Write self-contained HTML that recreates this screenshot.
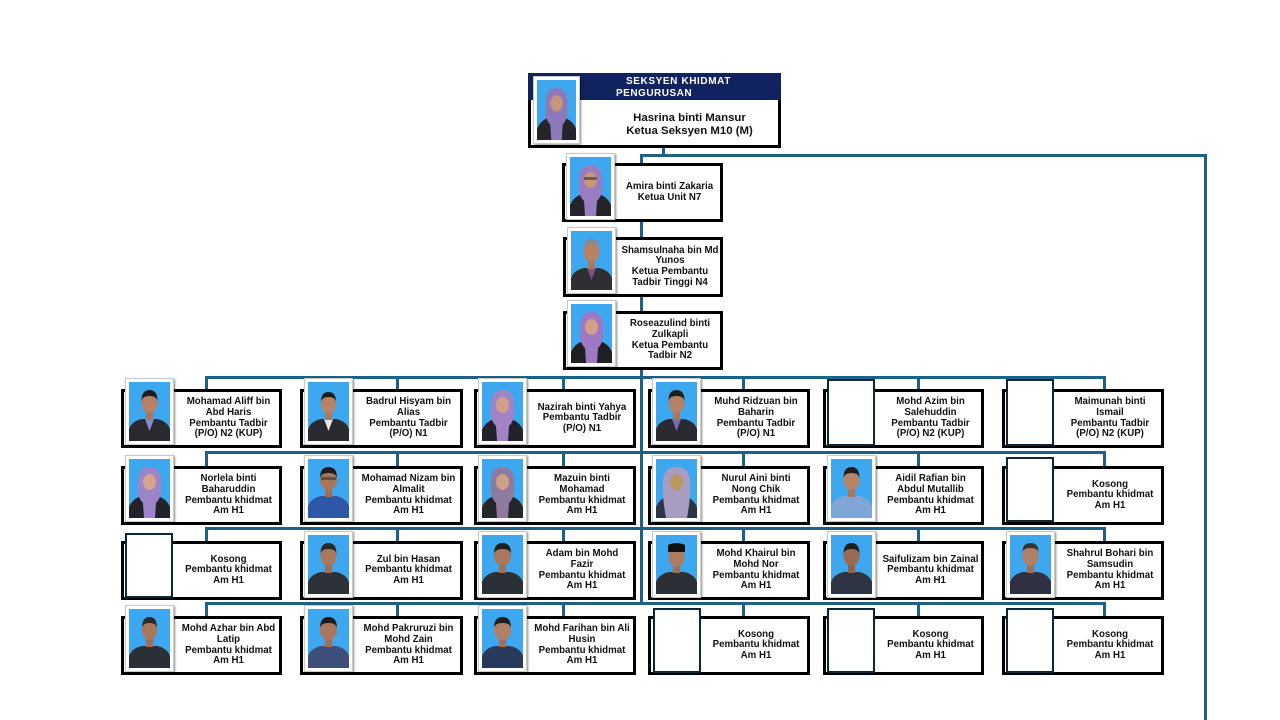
<!DOCTYPE html>
<html><head><meta charset="utf-8">
<style>
html,body{margin:0;padding:0;background:#fff;}
body{width:1280px;height:720px;position:relative;overflow:hidden;font-family:"Liberation Sans",Arial,sans-serif;}
.l{position:absolute;background:#1d6088;}
.b{position:absolute;border:3px solid #000;background:#fff;box-sizing:border-box;height:59px;}
.t{position:absolute;left:54px;right:0;top:0;bottom:0;display:flex;align-items:center;justify-content:center;text-align:center;font-weight:bold;font-size:9.7px;line-height:10.6px;color:#111;white-space:nowrap;}
.p{position:absolute;left:1px;top:-14px;width:47px;height:65px;background:#fff;border:1px solid #c9c9c9;box-shadow:1px 1px 2px rgba(0,0,0,.45);}
.p svg{position:absolute;left:3px;top:3px;}
.e{position:absolute;left:1px;top:-12px;width:44px;height:61px;background:#fff;border:2px solid #0c2737;}
</style></head><body>

<!-- connectors -->
<div class="l" style="left:662px;top:147px;width:3px;height:10px"></div>
<div class="l" style="left:640px;top:154px;width:567px;height:3px"></div>
<div class="l" style="left:1204px;top:154px;width:3px;height:566px"></div>
<div class="l" style="left:640px;top:154px;width:3px;height:451px"></div>

<div class="l" style="left:205px;top:376px;width:901px;height:3px"></div>
<div class="l" style="left:205px;top:451px;width:901px;height:3px"></div>
<div class="l" style="left:205px;top:527px;width:901px;height:3px"></div>
<div class="l" style="left:205px;top:602px;width:901px;height:3px"></div>

<!-- stubs row1 -->
<div class="l" style="left:205px;top:376px;width:3px;height:14px"></div>
<div class="l" style="left:396px;top:376px;width:3px;height:14px"></div>
<div class="l" style="left:562px;top:376px;width:3px;height:14px"></div>
<div class="l" style="left:742px;top:376px;width:3px;height:14px"></div>
<div class="l" style="left:917px;top:376px;width:3px;height:14px"></div>
<div class="l" style="left:1103px;top:376px;width:3px;height:14px"></div>
<!-- row2 -->
<div class="l" style="left:205px;top:451px;width:3px;height:16px"></div>
<div class="l" style="left:396px;top:451px;width:3px;height:16px"></div>
<div class="l" style="left:562px;top:451px;width:3px;height:16px"></div>
<div class="l" style="left:742px;top:451px;width:3px;height:16px"></div>
<div class="l" style="left:917px;top:451px;width:3px;height:16px"></div>
<div class="l" style="left:1103px;top:451px;width:3px;height:16px"></div>
<!-- row3 -->
<div class="l" style="left:205px;top:527px;width:3px;height:15px"></div>
<div class="l" style="left:396px;top:527px;width:3px;height:15px"></div>
<div class="l" style="left:562px;top:527px;width:3px;height:15px"></div>
<div class="l" style="left:742px;top:527px;width:3px;height:15px"></div>
<div class="l" style="left:917px;top:527px;width:3px;height:15px"></div>
<div class="l" style="left:1103px;top:527px;width:3px;height:15px"></div>
<!-- row4 -->
<div class="l" style="left:205px;top:602px;width:3px;height:15px"></div>
<div class="l" style="left:396px;top:602px;width:3px;height:15px"></div>
<div class="l" style="left:562px;top:602px;width:3px;height:15px"></div>
<div class="l" style="left:742px;top:602px;width:3px;height:15px"></div>
<div class="l" style="left:917px;top:602px;width:3px;height:15px"></div>
<div class="l" style="left:1103px;top:602px;width:3px;height:15px"></div>

<!-- TOP BOX -->
<div class="b" style="left:528px;top:73px;width:253px;height:75px;">
  <div style="position:absolute;left:-3px;top:-3px;right:-3px;height:27px;background:#10225f;"></div>
  <div style="position:absolute;left:95px;top:1px;color:#fff;font-weight:bold;font-size:10px;line-height:10px;letter-spacing:0.6px;white-space:nowrap;">SEKSYEN KHIDMAT</div>
  <div style="position:absolute;left:85px;top:13px;color:#fff;font-weight:bold;font-size:10px;line-height:10px;letter-spacing:0.5px;white-space:nowrap;">PENGURUSAN</div>
  <div class="p" style="left:2px;top:0px;width:45px;height:66px;">
    <svg width="39" height="60" viewBox="0 0 41 59" preserveAspectRatio="none"><rect width="41" height="59" fill="#3da8ef"/><path d="M0 59V48q4-9 13-11h15q9 2 13 11v11z" fill="#24242a"/><path d="M9 23q0-15 11.5-15T32 23v9q0 7-5 12l-1 15h-11l-1-15q-5-5-5-12z" fill="#8e79b8"/><ellipse cx="20.5" cy="23" rx="6.5" ry="8" fill="#c8957b"/></svg>
  </div>
  <div style="position:absolute;left:70px;right:0;top:36px;text-align:center;font-weight:bold;font-size:11.4px;line-height:12.5px;color:#111;white-space:nowrap;">Hasrina binti Mansur<br>Ketua Seksyen M10 (M)</div>
</div>

<!-- CHAIN -->
<div class="b" style="left:562px;top:163px;width:161px;">
  <div class="p" style="top:-13px;"><svg width="41" height="59" viewBox="0 0 41 59"><rect width="41" height="59" fill="#3da8ef"/><path d="M0 59V48q4-9 13-11h15q9 2 13 11v11z" fill="#24242a"/><path d="M9 23q0-15 11.5-15T32 23v9q0 7-5 12l-1 15h-11l-1-15q-5-5-5-12z" fill="#9a7cc0"/><ellipse cx="20.5" cy="23" rx="6.5" ry="8" fill="#c9947a"/><rect x="14" y="20" width="13" height="3" fill="#333" opacity=".6"/></svg></div>
  <div class="t">Amira binti Zakaria<br>Ketua Unit N7</div>
</div>
<div class="b" style="left:563px;top:237px;width:160px;height:60px;">
  <div class="p" style="top:-13px;"><svg width="41" height="59" viewBox="0 0 41 59"><rect width="41" height="59" fill="#3da8ef"/><path d="M0 59V47q3-8 13-10h15q10 2 13 10v12z" fill="#2e2e33"/><path d="M16 37h9l-4.5 12z" fill="#7a4f8a"/><rect x="17" y="29" width="7" height="9" fill="#a9785f"/><ellipse cx="20.5" cy="21" rx="8" ry="10" fill="#b58266"/><path d="M12.5 19q0-11 8-11t8 11q-1-5-8-5t-8 5z" fill="#8a8a8a"/></svg></div>
  <div class="t">Shamsulnaha bin Md<br>Yunos<br>Ketua Pembantu<br>Tadbir Tinggi N4</div>
</div>
<div class="b" style="left:563px;top:311px;width:160px;">
  <div class="p" style="top:-14px;"><svg width="41" height="59" viewBox="0 0 41 59"><rect width="41" height="59" fill="#3da8ef"/><path d="M0 59V48q4-9 13-11h15q9 2 13 11v11z" fill="#1f1f24"/><path d="M9 23q0-15 11.5-15T32 23v9q0 7-5 12l-1 15h-11l-1-15q-5-5-5-12z" fill="#9e78c4"/><ellipse cx="20.5" cy="23" rx="6.5" ry="8" fill="#d0a08a"/></svg></div>
  <div class="t">Roseazulind binti<br>Zulkapli<br>Ketua Pembantu<br>Tadbir N2</div>
</div>

<!-- ROW 1 -->
<div class="b" style="left:121px;top:389px;width:161px;">
  <div class="p"><svg width="41" height="59" viewBox="0 0 41 59"><rect width="41" height="59" fill="#3da8ef"/><path d="M0 59V47q3-8 13-10h15q10 2 13 10v12z" fill="#2a2a30"/><path d="M16 37h9l-4.5 12z" fill="#8c8cc8"/><rect x="17" y="29" width="7" height="9" fill="#a8775e"/><ellipse cx="20.5" cy="21" rx="8" ry="10" fill="#b58266"/><path d="M12.5 19q0-11 8-11t8 11q-1-5-8-5t-8 5z" fill="#1e1e1e"/></svg></div>
  <div class="t">Mohamad Aliff bin<br>Abd Haris<br>Pembantu Tadbir<br>(P/O) N2 (KUP)</div>
</div>
<div class="b" style="left:300px;top:389px;width:163px;">
  <div class="p"><svg width="41" height="59" viewBox="0 0 41 59"><rect width="41" height="59" fill="#3da8ef"/><path d="M0 59V47q3-8 13-10h15q10 2 13 10v12z" fill="#2a2a30"/><path d="M16 37h9l-4.5 12z" fill="#e8e8e8"/><rect x="17" y="29" width="7" height="9" fill="#a8775e"/><ellipse cx="20.5" cy="22" rx="7.5" ry="9.5" fill="#b88467"/><path d="M13 20q0-10 7.5-10t7.5 10q-1-5-7.5-5t-7.5 5z" fill="#1e1e1e"/></svg></div>
  <div class="t">Badrul Hisyam bin<br>Alias<br>Pembantu Tadbir<br>(P/O) N1</div>
</div>
<div class="b" style="left:474px;top:389px;width:162px;">
  <div class="p"><svg width="41" height="59" viewBox="0 0 41 59"><rect width="41" height="59" fill="#3da8ef"/><path d="M0 59V48q4-9 13-11h15q9 2 13 11v11z" fill="#22222a"/><path d="M9 23q0-15 11.5-15T32 23v9q0 7-5 12l-1 15h-11l-1-15q-5-5-5-12z" fill="#a183c6"/><ellipse cx="20.5" cy="23" rx="6.5" ry="8" fill="#d1a08a"/></svg></div>
  <div class="t">Nazirah binti Yahya<br>Pembantu Tadbir<br>(P/O) N1</div>
</div>
<div class="b" style="left:648px;top:389px;width:162px;">
  <div class="p"><svg width="41" height="59" viewBox="0 0 41 59"><rect width="41" height="59" fill="#3da8ef"/><path d="M0 59V47q3-8 13-10h15q10 2 13 10v12z" fill="#2a2a30"/><path d="M16 37h9l-4.5 12z" fill="#7c6aa8"/><rect x="17" y="29" width="7" height="9" fill="#a8775e"/><ellipse cx="20.5" cy="21" rx="8" ry="10" fill="#b58266"/><path d="M12.5 19q0-11 8-11t8 11q-1-5-8-5t-8 5z" fill="#1e1e1e"/></svg></div>
  <div class="t">Muhd Ridzuan bin<br>Baharin<br>Pembantu Tadbir<br>(P/O) N1</div>
</div>
<div class="b" style="left:823px;top:389px;width:161px;">
  <div class="e" style="top:-13px;height:63px;"></div>
  <div class="t">Mohd Azim bin<br>Salehuddin<br>Pembantu Tadbir<br>(P/O) N2 (KUP)</div>
</div>
<div class="b" style="left:1002px;top:389px;width:162px;">
  <div class="e" style="top:-13px;height:63px;"></div>
  <div class="t">Maimunah binti<br>Ismail<br>Pembantu Tadbir<br>(P/O) N2 (KUP)</div>
</div>

<!-- ROW 2 -->
<div class="b" style="left:121px;top:466px;width:161px;">
  <div class="p"><svg width="41" height="59" viewBox="0 0 41 59"><rect width="41" height="59" fill="#3da8ef"/><path d="M0 59V48q4-9 13-11h15q9 2 13 11v11z" fill="#22222a"/><path d="M9 23q0-15 11.5-15T32 23v9q0 7-5 12l-1 15h-11l-1-15q-5-5-5-12z" fill="#9d84c8"/><ellipse cx="20.5" cy="23" rx="6.5" ry="8" fill="#d4a48e"/></svg></div>
  <div class="t">Norlela binti<br>Baharuddin<br>Pembantu khidmat<br>Am H1</div>
</div>
<div class="b" style="left:300px;top:466px;width:163px;">
  <div class="p"><svg width="41" height="59" viewBox="0 0 41 59"><rect width="41" height="59" fill="#3da8ef"/><path d="M0 59V47q3-8 13-10h15q10 2 13 10v12z" fill="#2f57a8"/><rect x="17" y="29" width="7" height="9" fill="#a06f55"/><ellipse cx="20.5" cy="21" rx="8.5" ry="10" fill="#a87659"/><path d="M12 19q0-11 8.5-11t8.5 11q-1-5-8.5-5t-8.5 5z" fill="#1e1e1e"/><rect x="13" y="18" width="15" height="3" fill="#333" opacity=".6"/></svg></div>
  <div class="t">Mohamad Nizam bin<br>Almalit<br>Pembantu khidmat<br>Am H1</div>
</div>
<div class="b" style="left:474px;top:466px;width:162px;">
  <div class="p"><svg width="41" height="59" viewBox="0 0 41 59"><rect width="41" height="59" fill="#3da8ef"/><path d="M0 59V48q4-9 13-11h15q9 2 13 11v11z" fill="#24262a"/><path d="M9 23q0-15 11.5-15T32 23v9q0 7-5 12l-1 15h-11l-1-15q-5-5-5-12z" fill="#8f7a9f"/><ellipse cx="20.5" cy="23" rx="6.5" ry="8" fill="#cf9f88"/></svg></div>
  <div class="t">Mazuin binti<br>Mohamad<br>Pembantu khidmat<br>Am H1</div>
</div>
<div class="b" style="left:648px;top:466px;width:162px;">
  <div class="p"><svg width="41" height="59" viewBox="0 0 41 59"><rect width="41" height="59" fill="#3da8ef"/><path d="M0 59V48q4-9 13-11h15q9 2 13 11v11z" fill="#2c3448"/><path d="M7 24q0-16 13.5-16T34 24v10q0 8-3 25H10Q7 42 7 34z" fill="#a89cc0"/><ellipse cx="20.5" cy="23" rx="6.5" ry="8" fill="#b99a5e"/></svg></div>
  <div class="t">Nurul Aini binti<br>Nong Chik<br>Pembantu khidmat<br>Am H1</div>
</div>
<div class="b" style="left:823px;top:466px;width:161px;">
  <div class="p"><svg width="41" height="59" viewBox="0 0 41 59"><rect width="41" height="59" fill="#3da8ef"/><path d="M0 59V47q3-8 13-10h15q10 2 13 10v12z" fill="#7fa6d6"/><rect x="17" y="29" width="7" height="9" fill="#a8775e"/><ellipse cx="20.5" cy="21" rx="8" ry="10" fill="#b88468"/><path d="M12.5 19q0-11 8-11t8 11q-1-5-8-5t-8 5z" fill="#1e1e1e"/></svg></div>
  <div class="t">Aidil Rafian bin<br>Abdul Mutallib<br>Pembantu khidmat<br>Am H1</div>
</div>
<div class="b" style="left:1002px;top:466px;width:162px;">
  <div class="e"></div>
  <div class="t">Kosong<br>Pembantu khidmat<br>Am H1</div>
</div>

<!-- ROW 3 -->
<div class="b" style="left:121px;top:541px;width:161px;">
  <div class="e" style="top:-11px;"></div>
  <div class="t">Kosong<br>Pembantu khidmat<br>Am H1</div>
</div>
<div class="b" style="left:300px;top:541px;width:163px;">
  <div class="p" style="top:-13px;"><svg width="41" height="59" viewBox="0 0 41 59"><rect width="41" height="59" fill="#3da8ef"/><path d="M0 59V47q3-8 13-10h15q10 2 13 10v12z" fill="#2d3238"/><rect x="17" y="29" width="7" height="9" fill="#a07056"/><ellipse cx="20.5" cy="21" rx="8" ry="10" fill="#a9785c"/><path d="M12.5 19q0-11 8-11t8 11q-1-5-8-5t-8 5z" fill="#2a2a2a"/></svg></div>
  <div class="t">Zul bin Hasan<br>Pembantu khidmat<br>Am H1</div>
</div>
<div class="b" style="left:474px;top:541px;width:162px;">
  <div class="p" style="top:-13px;"><svg width="41" height="59" viewBox="0 0 41 59"><rect width="41" height="59" fill="#3da8ef"/><path d="M0 59V47q3-8 13-10h15q10 2 13 10v12z" fill="#2b3036"/><rect x="17" y="29" width="7" height="9" fill="#a07056"/><ellipse cx="20.5" cy="21" rx="8.5" ry="10" fill="#a9785c"/><path d="M12 19q0-11 8.5-11t8.5 11q-1-5-8.5-5t-8.5 5z" fill="#1e1e1e"/></svg></div>
  <div class="t">Adam bin Mohd<br>Fazir<br>Pembantu khidmat<br>Am H1</div>
</div>
<div class="b" style="left:648px;top:541px;width:162px;">
  <div class="p" style="top:-13px;"><svg width="41" height="59" viewBox="0 0 41 59"><rect width="41" height="59" fill="#3da8ef"/><path d="M0 59V47q3-8 13-10h15q10 2 13 10v12z" fill="#2b3036"/><rect x="17" y="29" width="7" height="9" fill="#a07056"/><ellipse cx="20.5" cy="22" rx="8" ry="10" fill="#ad7b5f"/><path d="M12 17V10q8.5-4 17 0v7z" fill="#111"/></svg></div>
  <div class="t">Mohd Khairul bin<br>Mohd Nor<br>Pembantu khidmat<br>Am H1</div>
</div>
<div class="b" style="left:823px;top:541px;width:161px;">
  <div class="p" style="top:-13px;"><svg width="41" height="59" viewBox="0 0 41 59"><rect width="41" height="59" fill="#3da8ef"/><path d="M0 59V47q3-8 13-10h15q10 2 13 10v12z" fill="#2e3444"/><rect x="17" y="29" width="7" height="9" fill="#8f6249"/><ellipse cx="20.5" cy="21" rx="8" ry="10" fill="#9a6b50"/><path d="M12.5 19q0-11 8-11t8 11q-1-5-8-5t-8 5z" fill="#1e1e1e"/></svg></div>
  <div class="t">Saifulizam bin Zainal<br>Pembantu khidmat<br>Am H1</div>
</div>
<div class="b" style="left:1002px;top:541px;width:162px;">
  <div class="p" style="top:-13px;"><svg width="41" height="59" viewBox="0 0 41 59"><rect width="41" height="59" fill="#3da8ef"/><path d="M0 59V47q3-8 13-10h15q10 2 13 10v12z" fill="#2f3042"/><rect x="17" y="29" width="7" height="9" fill="#a07056"/><ellipse cx="20.5" cy="21" rx="8" ry="10" fill="#b08066"/><path d="M12.5 17q0-9 8-9t8 9q-1-4-8-4t-8 4z" fill="#333"/></svg></div>
  <div class="t">Shahrul Bohari bin<br>Samsudin<br>Pembantu khidmat<br>Am H1</div>
</div>

<!-- ROW 4 -->
<div class="b" style="left:121px;top:616px;width:161px;">
  <div class="p"><svg width="41" height="59" viewBox="0 0 41 59"><rect width="41" height="59" fill="#3da8ef"/><path d="M0 59V47q3-8 13-10h15q10 2 13 10v12z" fill="#2b3036"/><rect x="17" y="29" width="7" height="9" fill="#a07056"/><ellipse cx="20.5" cy="21" rx="7.5" ry="10" fill="#a9785c"/><path d="M13 19q0-11 7.5-11t7.5 11q-1-5-7.5-5t-7.5 5z" fill="#2a2a2a"/></svg></div>
  <div class="t">Mohd Azhar bin Abd<br>Latip<br>Pembantu khidmat<br>Am H1</div>
</div>
<div class="b" style="left:300px;top:616px;width:163px;">
  <div class="p"><svg width="41" height="59" viewBox="0 0 41 59"><rect width="41" height="59" fill="#3da8ef"/><path d="M0 59V47q3-8 13-10h15q10 2 13 10v12z" fill="#3d4f7a"/><rect x="17" y="29" width="7" height="9" fill="#a07056"/><ellipse cx="20.5" cy="21" rx="8.5" ry="10" fill="#a9785c"/><path d="M12 19q0-11 8.5-11t8.5 11q-1-5-8.5-5t-8.5 5z" fill="#1e1e1e"/></svg></div>
  <div class="t">Mohd Pakruruzi bin<br>Mohd Zain<br>Pembantu khidmat<br>Am H1</div>
</div>
<div class="b" style="left:474px;top:616px;width:162px;">
  <div class="p"><svg width="41" height="59" viewBox="0 0 41 59"><rect width="41" height="59" fill="#3da8ef"/><path d="M0 59V47q3-8 13-10h15q10 2 13 10v12z" fill="#283a5c"/><rect x="17" y="29" width="7" height="9" fill="#a07056"/><ellipse cx="20.5" cy="21" rx="8.5" ry="10" fill="#b08066"/><path d="M12 19q0-11 8.5-11t8.5 11q-1-5-8.5-5t-8.5 5z" fill="#1e1e1e"/></svg></div>
  <div class="t">Mohd Farihan bin Ali<br>Husin<br>Pembantu khidmat<br>Am H1</div>
</div>
<div class="b" style="left:648px;top:616px;width:162px;">
  <div class="e" style="top:-11px;left:2px;"></div>
  <div class="t">Kosong<br>Pembantu khidmat<br>Am H1</div>
</div>
<div class="b" style="left:823px;top:616px;width:161px;">
  <div class="e" style="top:-11px;"></div>
  <div class="t">Kosong<br>Pembantu khidmat<br>Am H1</div>
</div>
<div class="b" style="left:1002px;top:616px;width:162px;">
  <div class="e" style="top:-11px;"></div>
  <div class="t">Kosong<br>Pembantu khidmat<br>Am H1</div>
</div>

</body></html>
